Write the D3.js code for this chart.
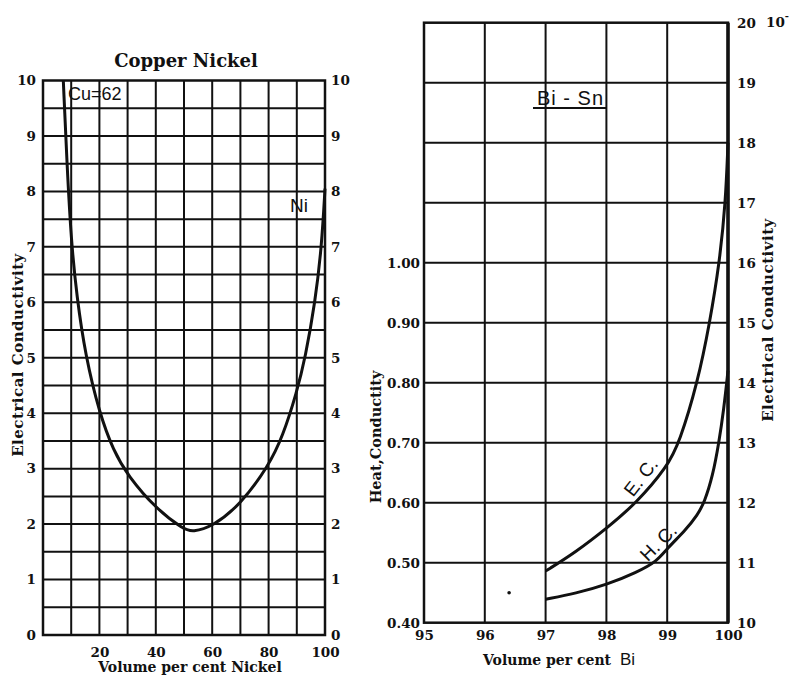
<!DOCTYPE html>
<html><head><meta charset="utf-8">
<script src="https://cdn.jsdelivr.net/npm/d3@7"></script>
<style>body{margin:0;background:#fff}svg{display:block}</style>
</head><body>
<svg id="chart" width="792" height="677"></svg>
<script>
// ---------- data ----------
// Left panel: Copper–Nickel
const cuNiPct = [7.2, 8.5, 10, 12, 15, 20, 25, 30, 40, 50, 53, 60, 70, 80, 85, 90, 93, 96.5, 98.8, 100];
const cuNiEC  = [10, 8.5, 7.1, 6.1, 5.05, 4.0, 3.32, 2.88, 2.28, 1.9, 1.86, 1.95, 2.35, 3.05, 3.58, 4.38, 5, 6, 7, 8.05];
const leftXTicks = [20, 40, 60, 80, 100];
const leftYTicks = [0, 1, 2, 3, 4, 5, 6, 7, 8, 9, 10];

// Right panel: Bi–Sn
const ecPct = [97, 97.5, 98, 98.5, 99, 99.2, 99.5, 99.70, 99.86, 99.96, 100];
const ecVal = [10.86, 11.18, 11.57, 12.0, 12.6, 13, 14, 15, 16, 17, 18];
const hcPct = [97, 97.5, 98, 98.5, 98.83, 99, 99.3, 99.5, 99.61, 99.75, 99.85, 99.93, 100];
const hcVal = [0.439, 0.449, 0.463, 0.484, 0.502, 0.524, 0.554, 0.58, 0.60, 0.645, 0.70, 0.755, 0.82];
const rightXTicks = [95, 96, 97, 98, 99, 100];
const heatTicks = [0.40, 0.50, 0.60, 0.70, 0.80, 0.90, 1.00];
const ecTicks = [10, 11, 12, 13, 14, 15, 16, 17, 18, 19, 20];
const strayPoint = [[96.4, 0.45]];

// ---------- drawing ----------
const svg = d3.select("#chart");
const ink = "#111";
const serif = "'DejaVu Serif', serif";
const sans = "'Liberation Sans', Arial, sans-serif";

// ===== Left panel =====
const xL = d3.scaleLinear().domain([0, 100]).range([43, 325]);
const yL = d3.scaleLinear().domain([0, 10]).range([635, 80.5]);
const gL = svg.append("g");

gL.append("g").selectAll("line").data(d3.range(10, 100, 10)).join("line")
  .attr("x1", d => xL(d)).attr("x2", d => xL(d))
  .attr("y1", yL(0)).attr("y2", yL(10))
  .attr("stroke", ink).attr("stroke-width", 2);
gL.append("g").selectAll("line").data(d3.range(0.5, 10, 0.5)).join("line")
  .attr("x1", xL(0)).attr("x2", xL(100))
  .attr("y1", d => yL(d)).attr("y2", d => yL(d))
  .attr("stroke", ink).attr("stroke-width", 2);
gL.append("rect")
  .attr("x", xL(0)).attr("y", yL(10))
  .attr("width", xL(100) - xL(0)).attr("height", yL(0) - yL(10))
  .attr("fill", "none").attr("stroke", ink).attr("stroke-width", 2.5);

function styleAxis(g, size, family) {
  g.select(".domain").remove();
  g.selectAll("line").remove();
  g.selectAll("text").attr("font-family", family || serif).attr("font-weight", "bold")
    .attr("font-size", size).attr("fill", ink);
}
gL.append("g").attr("transform", `translate(${xL(0)},0)`)
  .call(d3.axisLeft(yL).tickValues(leftYTicks).tickSize(0).tickPadding(7).tickFormat(d3.format("d")))
  .call(g => styleAxis(g, 13.5));
gL.append("g").attr("transform", `translate(${xL(100)},0)`)
  .call(d3.axisRight(yL).tickValues(leftYTicks).tickSize(0).tickPadding(6).tickFormat(d3.format("d")))
  .call(g => styleAxis(g, 13.5));
gL.append("g").attr("transform", `translate(0,${yL(0) + 9})`)
  .call(d3.axisBottom(xL).tickValues(leftXTicks).tickSize(0).tickPadding(3).tickFormat(d3.format("d")))
  .call(g => styleAxis(g, 13.5));

const smooth = d3.curveBasis;
const cuNiLine = d3.line().x(d => xL(d[0])).y(d => yL(d[1])).curve(smooth);
gL.append("path").datum(d3.zip(cuNiPct, cuNiEC))
  .attr("d", cuNiLine).attr("fill", "none").attr("stroke", ink).attr("stroke-width", 3);

gL.append("text").attr("x", 186).attr("y", 67).attr("text-anchor", "middle")
  .attr("font-family", serif).attr("font-weight", "bold").attr("font-size", 18).attr("fill", ink)
  .text("Copper Nickel");
gL.append("text").attr("x", 190).attr("y", 672).attr("text-anchor", "middle")
  .attr("font-family", serif).attr("font-weight", "bold").attr("font-size", 14).attr("fill", ink)
  .text("Volume per cent Nickel");
gL.append("text").attr("transform", "translate(23,355) rotate(-90)").attr("text-anchor", "middle")
  .attr("font-family", serif).attr("font-weight", "bold").attr("font-size", 15)
  .attr("letter-spacing", 0.5).attr("fill", ink)
  .text("Electrical Conductivity");
gL.append("text").attr("x", 68).attr("y", 100)
  .attr("font-family", sans).attr("font-size", 18).attr("fill", ink).text("Cu=62");
gL.append("text").attr("x", 290).attr("y", 212)
  .attr("font-family", sans).attr("font-size", 19).attr("fill", ink).text("Ni");

// ===== Right panel =====
const xR = d3.scaleLinear().domain([95, 100]).range([424, 728]);
const yR = d3.scaleLinear().domain([10, 20]).range([622.7, 22.7]);
const yH = d3.scaleLinear().domain([0.4, 1.0]).range([622.7, 262.7]);
const gR = svg.append("g");

gR.append("g").selectAll("line").data(d3.range(96, 100, 1)).join("line")
  .attr("x1", d => xR(d)).attr("x2", d => xR(d))
  .attr("y1", yR(10)).attr("y2", yR(20))
  .attr("stroke", ink).attr("stroke-width", 2);
gR.append("g").selectAll("line").data(d3.range(11, 20, 1)).join("line")
  .attr("x1", xR(95)).attr("x2", xR(100))
  .attr("y1", d => yR(d)).attr("y2", d => yR(d))
  .attr("stroke", ink).attr("stroke-width", 2);
gR.append("rect")
  .attr("x", xR(95)).attr("y", yR(20))
  .attr("width", xR(100) - xR(95)).attr("height", yR(10) - yR(20))
  .attr("fill", "none").attr("stroke", ink).attr("stroke-width", 2.5);
gR.append("line").attr("x1", xR(100)).attr("x2", xR(100)).attr("y1", yR(20)).attr("y2", yR(10))
  .attr("stroke", ink).attr("stroke-width", 3.5);

gR.append("g").attr("transform", `translate(${xR(95)},0)`)
  .call(d3.axisLeft(yH).tickValues(heatTicks).tickSize(0).tickPadding(4).tickFormat(d3.format(".2f")))
  .call(g => styleAxis(g, 13.5));
gR.append("g").attr("transform", `translate(${xR(100)},0)`)
  .call(d3.axisRight(yR).tickValues(ecTicks).tickSize(0).tickPadding(9).tickFormat(d3.format("d")))
  .call(g => styleAxis(g, 13.5));
gR.append("g").attr("transform", `translate(0,${yR(10) + 5})`)
  .call(d3.axisBottom(xR).tickValues(rightXTicks).tickSize(0).tickPadding(3).tickFormat(d3.format("d")))
  .call(g => styleAxis(g, 13.5));

const ecLine = d3.line().x(d => xR(d[0])).y(d => yR(d[1])).curve(smooth);
const hcLine = d3.line().x(d => xR(d[0])).y(d => yH(d[1])).curve(smooth);
gR.append("path").datum(d3.zip(ecPct, ecVal))
  .attr("d", ecLine).attr("fill", "none").attr("stroke", ink).attr("stroke-width", 3);
gR.append("path").datum(d3.zip(hcPct, hcVal))
  .attr("d", hcLine).attr("fill", "none").attr("stroke", ink).attr("stroke-width", 3);
gR.append("g").selectAll("circle").data(strayPoint).join("circle")
  .attr("cx", d => xR(d[0])).attr("cy", d => yH(d[1])).attr("r", 1.8).attr("fill", ink);

gR.append("text").attr("transform", "translate(646,481) rotate(-52)").attr("text-anchor", "middle")
  .attr("font-family", sans).attr("font-size", 19).attr("fill", ink).text("E. C.");
gR.append("text").attr("transform", "translate(663,547) rotate(-45)").attr("text-anchor", "middle")
  .attr("font-family", sans).attr("font-size", 19).attr("fill", ink).text("H. C.");

gR.append("text").attr("x", 537).attr("y", 105)
  .attr("font-family", sans).attr("font-size", 20).attr("letter-spacing", 1).attr("fill", ink).text("Bi - Sn");
gR.append("line").attr("x1", 533).attr("x2", 607).attr("y1", 108).attr("y2", 108)
  .attr("stroke", ink).attr("stroke-width", 2);

const xt = gR.append("text").attr("x", 483).attr("y", 665)
  .attr("font-family", serif).attr("font-weight", "bold").attr("font-size", 14).attr("fill", ink);
xt.append("tspan").text("Volume per cent ");
xt.append("tspan").attr("font-family", sans).attr("font-weight", "normal").attr("font-size", 17).attr("dx", 4).text("Bi");

gR.append("text").attr("transform", "translate(381,437) rotate(-90)").attr("text-anchor", "middle")
  .attr("font-family", serif).attr("font-weight", "bold").attr("font-size", 14.5).attr("fill", ink)
  .text("Heat,Conductity");
gR.append("text").attr("transform", "translate(773,320) rotate(-90)").attr("text-anchor", "middle")
  .attr("font-family", serif).attr("font-weight", "bold").attr("font-size", 15)
  .attr("letter-spacing", 0.5).attr("fill", ink)
  .text("Electrical Conductivity");

const unit = gR.append("text").attr("x", 766).attr("y", 27)
  .attr("font-family", serif).attr("font-weight", "bold").attr("font-size", 13.5).attr("fill", ink);
unit.append("tspan").text("10");
unit.append("tspan").attr("dy", -8).attr("font-size", 10).text("-");
</script>
</body></html>
